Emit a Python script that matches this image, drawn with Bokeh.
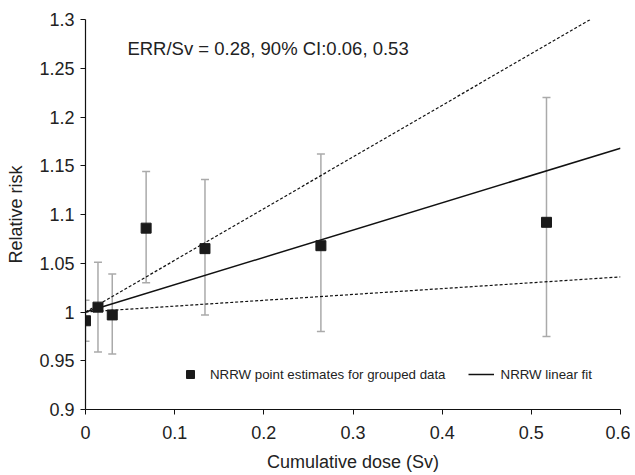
from bokeh.plotting import figure
from bokeh.models import (ColumnDataSource, Whisker, TeeHead, Legend, LegendItem,
                          Label, FixedTicker, Range1d)
from bokeh.embed import file_html
from bokeh.resources import INLINE

# ---- data ----
dose = [0.000, 0.014, 0.030, 0.068, 0.134, 0.264, 0.517]
rr = [0.991, 1.005, 0.997, 1.086, 1.065, 1.068, 1.092]
rr_lower = [0.970, 0.959, 0.957, 1.030, 0.997, 0.980, 0.975]
rr_upper = [1.012, 1.051, 1.039, 1.144, 1.136, 1.162, 1.220]

err_per_sv = 0.28
ci_low = 0.06
ci_high = 0.53
fit_x = [0.0, 0.6]

x_ticks = [0.0, 0.1, 0.2, 0.3, 0.4, 0.5, 0.6]
x_tick_labels = ["0", "0.1", "0.2", "0.3", "0.4", "0.5", "0.6"]
y_ticks = [0.9, 0.95, 1.0, 1.05, 1.1, 1.15, 1.2, 1.25, 1.3]
y_tick_labels = ["0.9", "0.95", "1", "1.05", "1.1", "1.15", "1.2", "1.25", "1.3"]

FONT = "Liberation Sans"
TXT = "#222222"

p = figure(width=630, height=474, output_backend="svg", toolbar_location=None,
           x_range=Range1d(0, 0.6), y_range=Range1d(0.9, 1.3),
           min_border_left=85, min_border_right=10, min_border_top=19,
           min_border_bottom=64)
p.outline_line_color = None
p.xgrid.grid_line_color = None
p.ygrid.grid_line_color = None
p.background_fill_color = "white"
p.border_fill_color = "white"

src = ColumnDataSource(dict(x=dose, y=rr, lo=rr_lower, hi=rr_upper))

# fit lines
fit_y = [1 + err_per_sv * x for x in fit_x]
low_y = [1 + ci_low * x for x in fit_x]
high_y = [1 + ci_high * x for x in fit_x]

err = Whisker(source=src, base="x", lower="lo", upper="hi",
              line_color="#aaaaaa", line_width=1.5,
              upper_head=TeeHead(size=8, line_color="#aaaaaa", line_width=1.5),
              lower_head=TeeHead(size=8, line_color="#aaaaaa", line_width=1.5))
p.add_layout(err)

p.line(fit_x, low_y, line_color="#111111", line_width=1.2, line_dash="3 2")
p.line(fit_x, high_y, line_color="#111111", line_width=1.2, line_dash="3 2")
fit_r = p.line(fit_x, fit_y, line_color="#111111", line_width=1.5)

pts = p.scatter("x", "y", source=src, marker="square", size=10,
                fill_color="#1a1a1a", line_color="#1a1a1a")

# axes
for ax in (p.xaxis[0], p.yaxis[0]):
    ax.axis_line_color = "#111111"
    ax.axis_line_width = 1.2
    ax.major_tick_line_color = "#111111"
    ax.major_tick_in = 0
    ax.major_tick_out = 5
    ax.minor_tick_line_color = None
    ax.major_label_text_font = FONT
    ax.major_label_text_font_size = "18px"
    ax.major_label_text_color = TXT
    ax.axis_label_text_font = FONT
    ax.axis_label_text_font_size = "18px"
    ax.axis_label_text_font_style = "normal"
    ax.axis_label_text_color = TXT

p.xaxis[0].ticker = FixedTicker(ticks=x_ticks)
p.xaxis[0].major_label_overrides = dict(zip(x_ticks, x_tick_labels))
p.yaxis[0].ticker = FixedTicker(ticks=y_ticks)
p.yaxis[0].major_label_overrides = dict(zip(y_ticks, y_tick_labels))
p.xaxis[0].axis_label = "Cumulative dose (Sv)"
p.yaxis[0].axis_label = "Relative risk"
p.xaxis[0].major_label_standoff = 11
p.xaxis[0].axis_label_standoff = 10
p.yaxis[0].major_label_standoff = 6
p.yaxis[0].axis_label_standoff = 10

# annotation
p.add_layout(Label(x=0.047, y=1.27,
                   text=f"ERR/Sv = {err_per_sv}, 90% CI:{ci_low}, {ci_high}",
                   text_font=FONT, text_font_size="18.5px", text_color=TXT,
                   text_baseline="middle"))

legend = Legend(items=[LegendItem(label="NRRW point estimates for grouped data", renderers=[pts]),
                       LegendItem(label="NRRW linear fit", renderers=[fit_r])],
                orientation="horizontal", location=(92, 25),
                border_line_color=None, background_fill_alpha=0,
                label_text_font=FONT, label_text_font_size="13.3px",
                label_text_color=TXT, label_standoff=7, spacing=22,
                glyph_width=26, glyph_height=20, padding=10)
p.add_layout(legend)

open("out.html", "w").write(file_html(p, INLINE))
